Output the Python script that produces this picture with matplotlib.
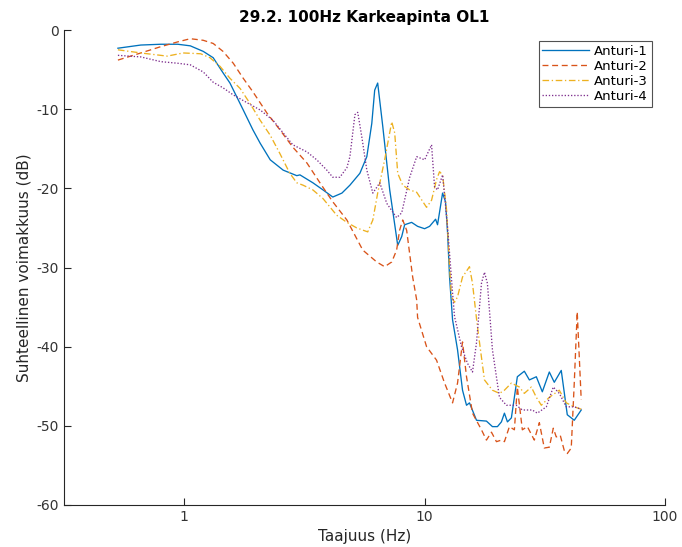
import matplotlib
matplotlib.use("Agg")
import matplotlib.pyplot as plt
from matplotlib.ticker import FixedLocator, NullLocator, FixedFormatter

title = "29.2. 100Hz Karkeapinta OL1"
xlabel = "Taajuus (Hz)"
ylabel = "Suhteellinen voimakkuus (dB)"
labels = ["Anturi-1", "Anturi-2", "Anturi-3", "Anturi-4"]

f1 = [0.53, 0.66, 0.80, 0.94, 1.06, 1.20, 1.32, 1.45, 1.55, 1.76, 1.93, 2.07, 2.28, 2.58, 2.94, 3.03,
      3.43, 3.78, 4.15, 4.53, 4.89, 5.38, 5.75, 6.03, 6.20, 6.38, 6.70, 7.16, 7.73, 8.03, 8.26, 8.83,
      9.35, 10.0, 10.49, 11.11, 11.32, 11.88, 12.22, 12.46, 12.70, 13.07, 13.71, 14.38, 14.94, 15.37,
      16.44, 18.08, 19.15, 20.09, 20.87, 21.48, 22.11, 22.96, 24.31, 25.99, 27.28, 29.16, 30.88, 33.02,
      34.63, 37.02, 39.22, 41.93, 44.82]
d1 = [-2.3, -1.9, -1.8, -1.8, -2.0, -2.7, -3.5, -5.4, -6.7, -10.1, -12.6, -14.3, -16.4, -17.7, -18.4, -18.3,
      -19.3, -20.2, -21.1, -20.6, -19.6, -18.1, -16.0, -11.8, -7.6, -6.7, -12.2, -20.2, -27.2, -26.1, -24.6, -24.3,
      -24.8, -25.1, -24.8, -23.9, -24.6, -20.6, -21.7, -25.6, -31.2, -36.6, -40.4, -45.5, -47.4, -47.1,
      -49.3, -49.4, -50.1, -50.1, -49.5, -48.4, -49.5, -49.0, -43.8, -43.1, -44.2, -43.8, -45.7, -43.2,
      -44.5, -43.0, -48.6, -49.3, -48.0]

f2 = [0.53, 0.66, 0.80, 0.94, 1.06, 1.20, 1.32, 1.45, 1.60, 1.76, 1.93, 2.21, 2.50, 2.83, 3.24, 3.67,
      4.15, 4.75, 5.53, 6.32, 6.82, 7.30, 7.65, 7.87, 8.11, 8.42, 8.92, 9.27, 9.35, 10.19, 11.21, 12.11,
      13.07, 13.71, 14.38, 14.94, 15.82, 17.24, 18.08, 18.97, 19.90, 20.87, 21.48, 22.53, 23.63, 24.31,
      25.50, 26.76, 28.60, 30.01, 31.47, 33.02, 34.30, 35.29, 36.67, 38.09, 39.22, 40.74, 41.93, 43.14, 44.82]
d2 = [-3.8, -2.9, -2.1, -1.5, -1.1, -1.3, -1.7, -2.7, -4.2, -6.1, -7.8, -10.5, -12.6, -14.8, -16.8, -19.3,
      -21.7, -24.0, -27.8, -29.3, -29.9, -29.3, -27.8, -25.3, -24.0, -25.3, -31.2, -34.1, -36.3, -40.0, -41.7, -44.6,
      -47.1, -44.6, -39.4, -43.8, -48.4, -50.5, -51.8, -50.8, -52.0, -51.8, -52.0, -50.1, -50.5, -45.1,
      -50.5, -50.1, -51.8, -49.6, -52.8, -52.7, -50.3, -51.4, -51.2, -53.1, -53.5, -52.8, -44.6, -35.6, -46.7]

f3 = [0.53, 0.66, 0.85, 0.99, 1.17, 1.28, 1.41, 1.55, 1.71, 1.88, 2.07, 2.28, 2.50, 2.75, 2.94, 3.12,
      3.43, 3.78, 4.31, 4.75, 5.22, 5.80, 6.09, 6.38, 6.82, 7.30, 7.51, 7.73, 8.11, 8.67, 9.27, 10.19,
      10.69, 11.21, 11.54, 11.88, 12.34, 12.70, 12.94, 13.32, 13.71, 14.38, 15.37, 15.82, 16.59, 17.74,
      19.15, 20.48, 21.48, 22.96, 24.79, 25.99, 27.80, 29.16, 30.59, 33.02, 36.33, 38.84, 41.93, 44.82]
d3 = [-2.5, -2.9, -3.3, -2.9, -3.0, -3.5, -4.6, -6.1, -7.4, -9.3, -11.4, -13.3, -15.6, -18.1, -19.3, -19.6,
      -20.2, -21.3, -23.4, -24.3, -25.0, -25.5, -24.0, -20.6, -16.4, -11.6, -13.0, -18.1, -19.6, -20.2, -20.5, -22.4,
      -21.5, -18.9, -17.9, -18.3, -22.7, -29.9, -33.7, -34.4, -33.7, -31.2, -29.9, -32.0, -37.5, -44.2,
      -45.5, -45.9, -45.5, -44.6, -45.1, -45.9, -45.1, -46.4, -47.4, -46.4, -45.5, -47.1, -47.6, -47.9]

f4 = [0.53, 0.66, 0.80, 0.94, 1.06, 1.20, 1.32, 1.45, 1.60, 1.83, 2.07, 2.34, 2.58, 2.83, 3.24, 3.56,
      3.92, 4.15, 4.44, 4.75, 4.89, 5.13, 5.27, 5.48, 5.75, 6.09, 6.51, 6.96, 7.65, 8.03, 8.67, 9.27,
      10.0, 10.69, 11.00, 11.32, 11.88, 12.46, 13.07, 13.32, 14.24, 15.08, 15.82, 16.44, 17.24, 17.74,
      18.25, 19.15, 20.48, 21.89, 24.08, 25.50, 28.06, 29.44, 32.09, 34.30, 36.33, 38.84, 41.93, 44.82]
d4 = [-3.2, -3.4, -4.0, -4.2, -4.4, -5.3, -6.6, -7.3, -8.2, -9.2, -10.1, -11.4, -13.0, -14.5, -15.4, -16.4,
      -17.7, -18.6, -18.6, -17.4, -16.0, -10.7, -10.4, -13.5, -17.7, -20.6, -19.3, -21.9, -23.7, -23.1, -18.6, -16.0,
      -16.4, -14.5, -19.8, -20.2, -18.3, -24.9, -33.2, -36.2, -40.0, -42.1, -43.2, -39.5, -32.0, -30.6,
      -32.0, -40.4, -46.4, -47.4, -47.4, -48.0, -48.0, -48.4, -47.6, -45.1, -45.9, -47.6, -47.6, -47.9]

xticks = [1, 10, 100]
xticklabels = ["1", "10", "100"]
yticks = [-60, -50, -40, -30, -20, -10, 0]
yticklabels = ["-60", "-50", "-40", "-30", "-20", "-10", "0"]

colors = ["#0072BD", "#D95319", "#EDB120", "#7E2F8E"]
styles = ["-", (0, (4.5, 2.8)), (0, (5, 2, 1, 2)), (0, (1, 1.4))]

fig = plt.figure(figsize=(6.82, 5.47), dpi=100)
ax = fig.add_axes([64/682, 1-505/547, (665-64)/682, (505-30)/547])

for fx, dy, c, ls, lab in zip([f1, f2, f3, f4], [d1, d2, d3, d4], colors, styles, labels):
    ax.plot(fx, dy, color=c, linestyle=ls, linewidth=0.95, label=lab)

ax.set_xscale("log")
ax.set_xlim(10**-0.5, 100)
ax.set_ylim(-60, 0)
ax.xaxis.set_major_locator(FixedLocator(xticks))
ax.xaxis.set_major_formatter(FixedFormatter(xticklabels))
ax.xaxis.set_minor_locator(NullLocator())
ax.set_yticks(yticks)
ax.set_yticklabels(yticklabels)

for s in ["top", "right"]:
    ax.spines[s].set_visible(False)
for s in ["left", "bottom"]:
    ax.spines[s].set_color("#262626")
    ax.spines[s].set_linewidth(0.8)
ax.tick_params(direction="in", length=5, width=0.8, colors="#262626", labelsize=10)
for lbl in ax.get_xticklabels() + ax.get_yticklabels():
    lbl.set_color("#333333")

ax.set_title(title, fontsize=11, fontweight="bold", pad=6)
ax.set_xlabel(xlabel, fontsize=11, color="#262626")
ax.set_ylabel(ylabel, fontsize=11, color="#262626")

leg = ax.legend(loc="upper right", bbox_to_anchor=(0.978, 0.977), fontsize=9.5, frameon=True,
                fancybox=False, edgecolor="#262626", handlelength=3.5, handletextpad=0.4,
                borderpad=0.3, labelspacing=0.15, borderaxespad=0.0)
leg.get_frame().set_linewidth(0.8)

fig.savefig("out.png", dpi=100)
